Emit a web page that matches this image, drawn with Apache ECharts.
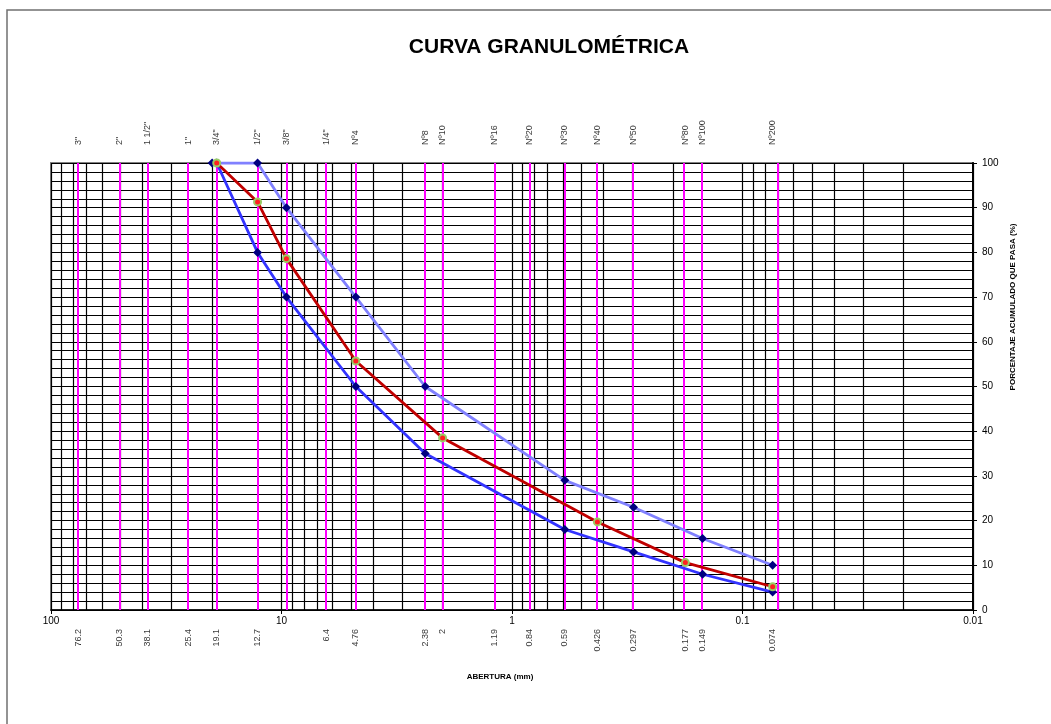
<!DOCTYPE html>
<html><head><meta charset="utf-8">
<script src="https://cdn.jsdelivr.net/npm/echarts@6/dist/echarts.min.js"></script>
<style>html,body{margin:0;padding:0;background:#fff}#c{width:1051px;height:724px}</style>
</head><body><div id="c"></div>
<script>
// Sieve openings (mm) and names
const sieveSizes = [76.2, 50.3, 38.1, 25.4, 19.1, 12.7, 9.52, 6.4, 4.76, 2.38, 2, 1.19, 0.84, 0.59, 0.426, 0.297, 0.177, 0.149, 0.074];
const sieveNames = ['3"', '2"', '1 1/2"', '1"', '3/4"', '1/2"', '3/8"', '1/4"', 'Nº4', 'Nº8', 'Nº10', 'Nº16', 'Nº20', 'Nº30', 'Nº40', 'Nº50', 'Nº80', 'Nº100', 'Nº200'];
const sieveMmLabels = ['76.2', '50.3', '38.1', '25.4', '19.1', '12.7', '', '6.4', '4.76', '2.38', '2', '1.19', '0.84', '0.59', '0.426', '0.297', '0.177', '0.149', '0.074'];
// Upper limit (light blue)
const upperX = [20, 12.7, 9.52, 4.76, 2.38, 0.59, 0.297, 0.149, 0.074];
const upperY = [100, 100, 90, 70, 50, 29, 23, 16, 10];
// Lower limit (blue)
const lowerX = [19.1, 12.7, 9.52, 4.76, 2.38, 0.59, 0.297, 0.149, 0.074];
const lowerY = [100, 80, 70, 50, 35, 18, 13, 8, 4];
// Sample curve (red)
const sampleX = [19.1, 12.7, 9.52, 4.76, 2, 0.426, 0.177, 0.074];
const sampleY = [100, 91.3, 78.6, 55.7, 38.5, 19.7, 10.6, 5.2];
// Axis tick labels
const xTickLabels = ['100', '10', '1', '0.1', '0.01'];

const FONT = 'Liberation Sans, Arial, sans-serif';
const zip = (xs, ys) => xs.map((x, i) => [x, ys[i]]);

// Log grid lines 1..9 x 10^k
const gridVals = [];
for (let k = -2; k <= 1; k++) for (let m = 1; m <= 9; m++) gridVals.push(Number((m * Math.pow(10, k)).toPrecision(3)));
gridVals.push(100);

const markData = gridVals.map(v => ({ xAxis: v, lineStyle: { color: '#000', width: 1.2, type: 'solid' } }))
  .concat(sieveSizes.map(v => ({ xAxis: v, lineStyle: { color: '#FF00FF', width: 2, type: 'solid' } })));

const chart = echarts.init(document.getElementById('c'), null, { renderer: 'canvas' });
chart.setOption({
  animation: false,
  backgroundColor: '#fff',
  grid: { left: 51, top: 163, width: 922, height: 447, show: true, borderColor: '#808080', borderWidth: 2, backgroundColor: 'transparent' },
  xAxis: {
    type: 'log', logBase: 10, min: 0.01, max: 100, inverse: true,
    axisLine: { show: true, onZero: false, lineStyle: { color: '#000', width: 1.5 } },
    axisTick: { show: true, length: 4, lineStyle: { color: '#000' } },
    splitLine: { show: false },
    axisLabel: {
      show: true, margin: 6, color: '#000', fontSize: 10, fontFamily: FONT,
      formatter: v => { const s = String(Number(Number(v).toPrecision(3))); return xTickLabels.includes(s) ? s : ''; }
    }
  },
  yAxis: {
    type: 'value', position: 'right', min: 0, max: 100, interval: 10,
    axisLine: { show: true, lineStyle: { color: '#000', width: 2 } },
    axisTick: { show: true, length: 4, lineStyle: { color: '#000' } },
    axisLabel: { margin: 9, color: '#000', fontSize: 10, fontFamily: FONT },
    splitLine: { show: true, lineStyle: { color: '#000', width: 1 } },
    minorTick: { show: false, splitNumber: 5 },
    minorSplitLine: { show: true, lineStyle: { color: '#000', width: 1 } }
  },
  graphic: [
    { type: 'rect', shape: { x: 7, y: 10, width: 1100, height: 800 }, style: { fill: 'none', stroke: '#707070', lineWidth: 1.5 }, silent: true },
    { type: 'text', x: 549, y: 47.5, style: { text: 'CURVA GRANULOMÉTRICA', font: 'bold 21px ' + FONT, fill: '#000', textAlign: 'center', textVerticalAlign: 'middle' } },
    { type: 'text', x: 500, y: 677, style: { text: 'ABERTURA (mm)', font: 'bold 8px ' + FONT, fill: '#000', textAlign: 'center', textVerticalAlign: 'middle' } },
    { type: 'text', x: 1013, y: 307, rotation: Math.PI / 2, style: { text: 'PORCENTAJE ACUMULADO QUE PASA (%)', font: 'bold 8px ' + FONT, fill: '#000', textAlign: 'center', textVerticalAlign: 'middle' } }
  ],
  series: [
    {
      type: 'scatter', name: 'tamices', z: 1, symbolSize: 0.1, itemStyle: { color: 'rgba(0,0,0,0)' }, silent: true,
      data: sieveSizes.map(v => [v, 100]),
      label: { show: true, position: 'top', distance: 18, rotate: 90, align: 'left', verticalAlign: 'middle', color: '#000', fontSize: 9, fontFamily: FONT, formatter: p => sieveNames[p.dataIndex] },
      markLine: { silent: true, symbol: ['none', 'none'], label: { show: false }, emphasis: { disabled: true }, animation: false, data: markData }
    },
    {
      type: 'scatter', name: 'aberturas', z: 1, symbolSize: 0.1, itemStyle: { color: 'rgba(0,0,0,0)' }, silent: true,
      data: sieveSizes.map(v => [v, 0]),
      label: { show: true, position: 'bottom', distance: 19, rotate: 90, align: 'right', verticalAlign: 'middle', color: '#000', fontSize: 9, fontFamily: FONT, formatter: p => sieveMmLabels[p.dataIndex] }
    },
    {
      type: 'line', name: 'Límite superior', z: 5, data: zip(upperX, upperY),
      lineStyle: { color: '#8080FF', width: 2.8 }, symbol: 'diamond', symbolSize: 9,
      itemStyle: { color: '#000080' }
    },
    {
      type: 'line', name: 'Límite inferior', z: 5, data: zip(lowerX, lowerY),
      lineStyle: { color: '#3333FF', width: 2.8 }, symbol: 'diamond', symbolSize: 9,
      itemStyle: { color: '#000080' }
    },
    {
      type: 'line', name: 'Muestra', z: 6, data: zip(sampleX, sampleY),
      lineStyle: { color: '#C00000', width: 2.8 }, symbol: 'circle', symbolSize: 7,
      itemStyle: { color: '#FF2020', borderColor: '#99CC66', borderWidth: 2 }
    }
  ]
});
</script>
</body></html>
